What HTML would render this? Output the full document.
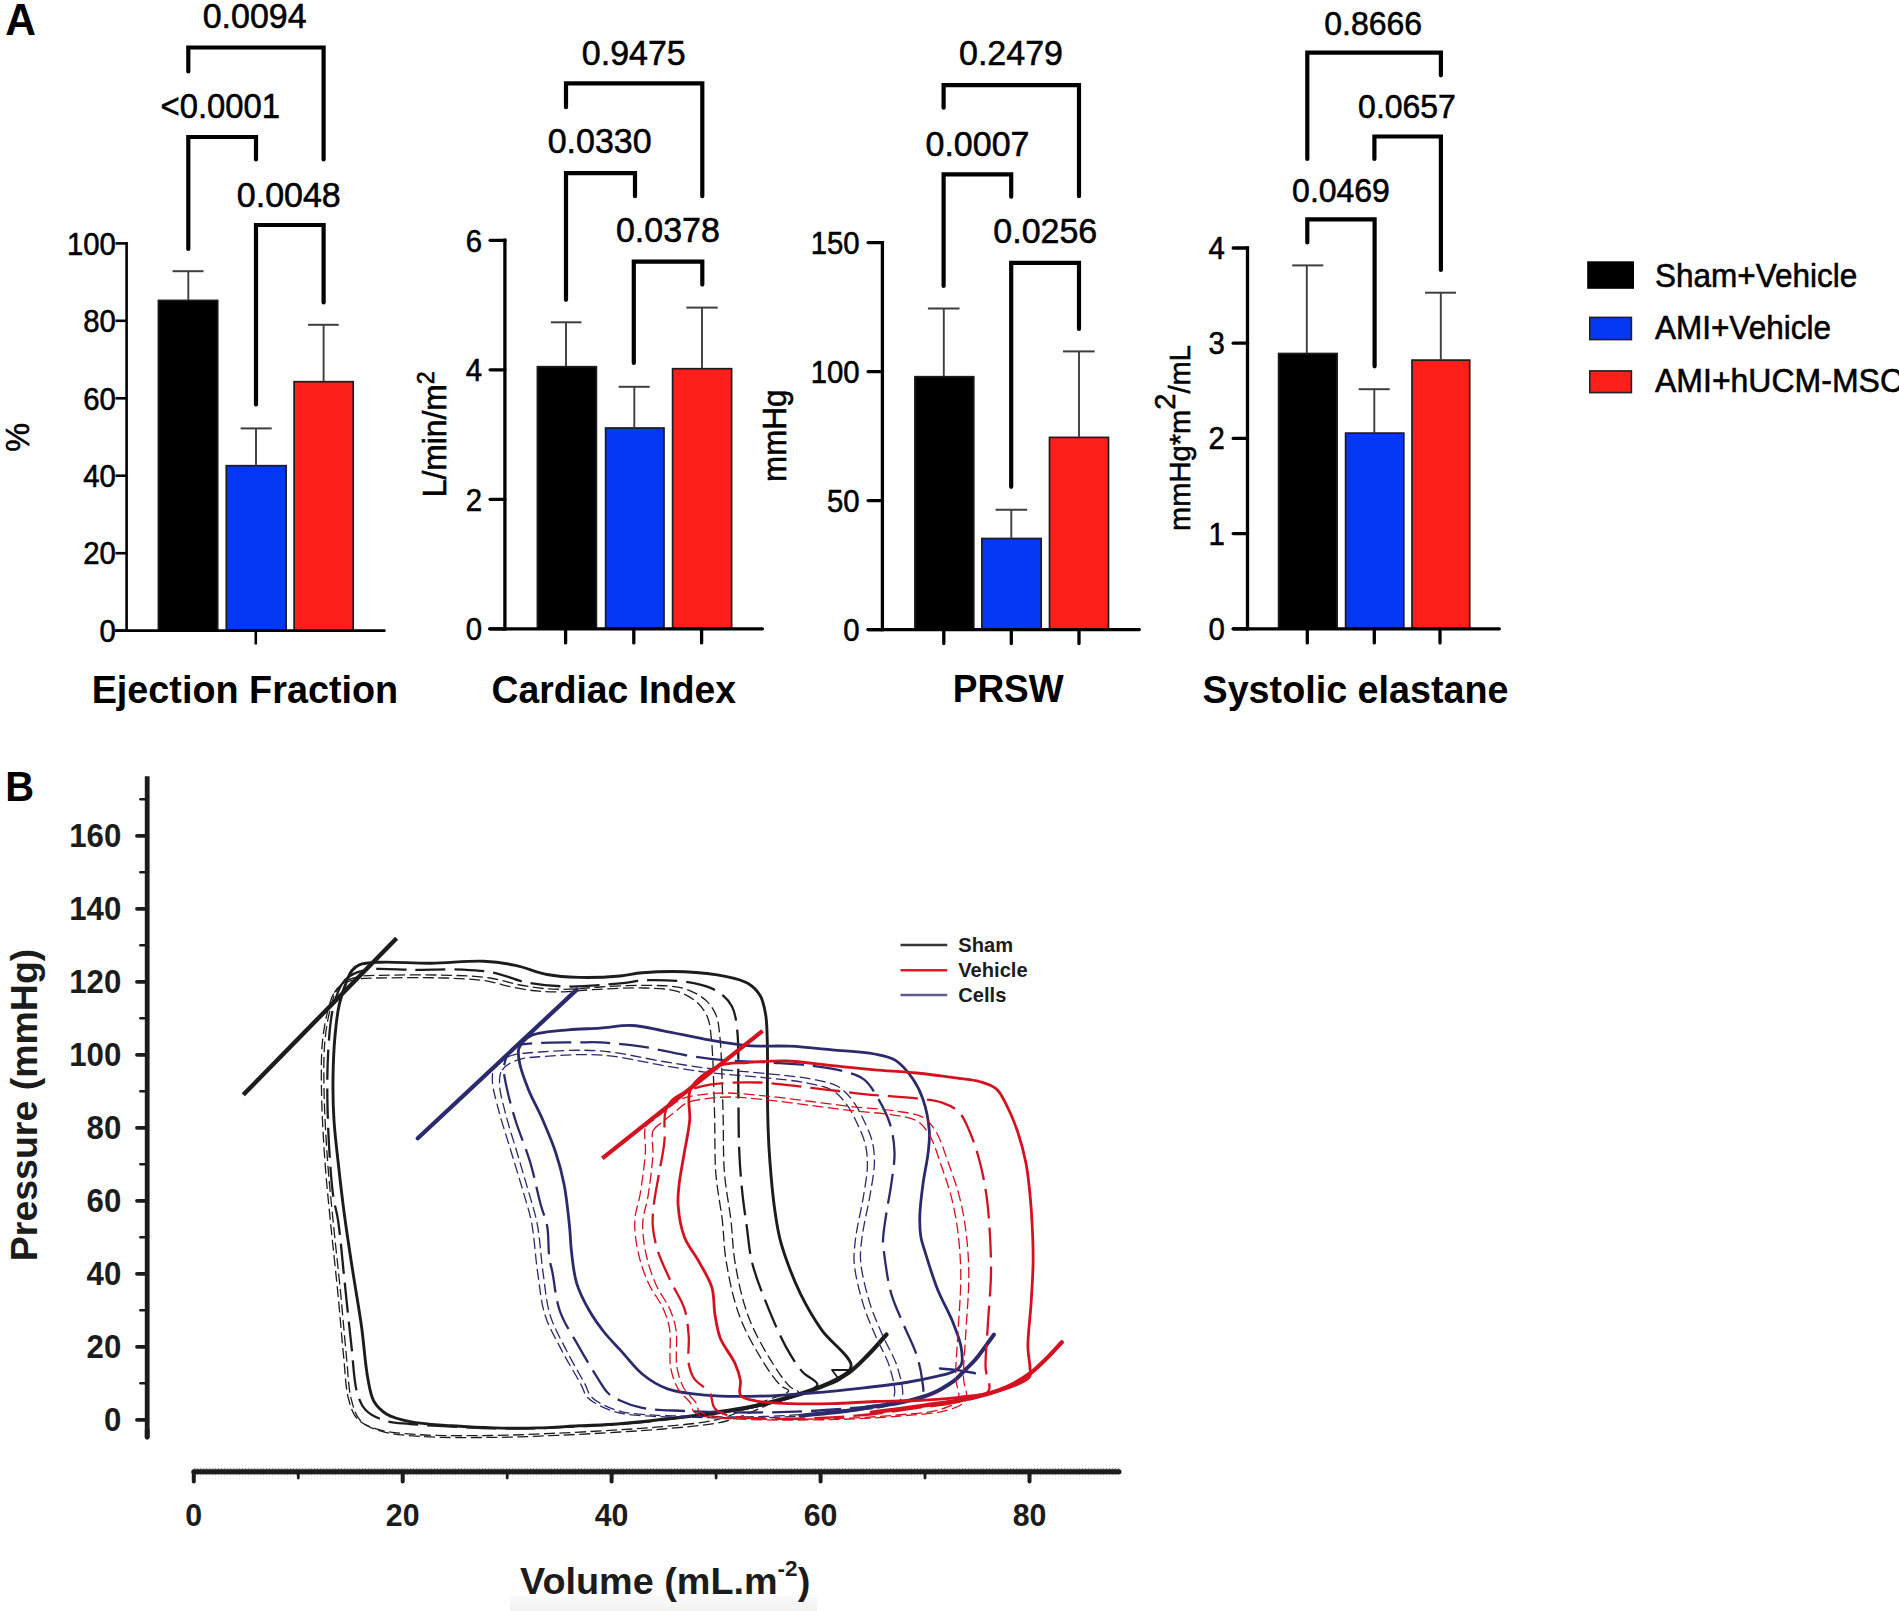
<!DOCTYPE html>
<html lang="en">
<head>
<meta charset="utf-8">
<title>Figure: haemodynamic parameters and pressure-volume loops</title>
<style>
html,body{margin:0;padding:0;background:#fff;}
body{width:1899px;height:1611px;overflow:hidden;}
svg{display:block;}
text{font-family:"Liberation Sans", Arial, Helvetica, sans-serif;}
</style>
</head>
<body>
<svg width="1899" height="1611" viewBox="0 0 1899 1611">
<rect width="1899" height="1611" fill="#ffffff"/>
<g font-family='"Liberation Sans", Arial, Helvetica, sans-serif'>
<text transform="translate(5.3 35.2) scale(1 1.02)" font-size="42.6" text-anchor="start" font-weight="bold" fill="#000" >A</text>
<rect x="158.4" y="300.4" width="59.3" height="330.2" fill="#000" stroke="#1c1c1c" stroke-width="1.7"/>
<rect x="226.3" y="465.7" width="59.8" height="164.9" fill="#0538f5" stroke="#1c1c1c" stroke-width="1.7"/>
<rect x="294.1" y="381.7" width="59.1" height="248.9" fill="#fe1f1b" stroke="#1c1c1c" stroke-width="1.7"/>
<line x1="188.3" y1="271.2" x2="188.3" y2="300.0" stroke="#3e3e3e" stroke-width="1.9" stroke-linecap="butt" />
<line x1="172.6" y1="271.2" x2="203.5" y2="271.2" stroke="#3e3e3e" stroke-width="2.0" stroke-linecap="butt" />
<line x1="256.0" y1="428.4" x2="256.0" y2="466.0" stroke="#3e3e3e" stroke-width="1.9" stroke-linecap="butt" />
<line x1="240.6" y1="428.4" x2="271.7" y2="428.4" stroke="#3e3e3e" stroke-width="2.0" stroke-linecap="butt" />
<line x1="323.6" y1="324.8" x2="323.6" y2="381.0" stroke="#3e3e3e" stroke-width="1.9" stroke-linecap="butt" />
<line x1="308.0" y1="324.8" x2="338.7" y2="324.8" stroke="#3e3e3e" stroke-width="2.0" stroke-linecap="butt" />
<line x1="126.6" y1="242.1" x2="126.6" y2="631.9" stroke="#000" stroke-width="2.6" stroke-linecap="butt" />
<line x1="115.0" y1="630.6" x2="385.5" y2="630.6" stroke="#000" stroke-width="2.6" stroke-linecap="butt" />
<line x1="115.5" y1="630.6" x2="126.6" y2="630.6" stroke="#000" stroke-width="2.6" stroke-linecap="butt" />
<text transform="translate(115.8 641.8) scale(1 1.04)" font-size="29.3" text-anchor="end" fill="#000" stroke="#000" stroke-width="0.55" >0</text>
<line x1="115.5" y1="553.2" x2="126.6" y2="553.2" stroke="#000" stroke-width="2.6" stroke-linecap="butt" />
<text transform="translate(115.8 564.4) scale(1 1.04)" font-size="29.3" text-anchor="end" fill="#000" stroke="#000" stroke-width="0.55" >20</text>
<line x1="115.5" y1="475.7" x2="126.6" y2="475.7" stroke="#000" stroke-width="2.6" stroke-linecap="butt" />
<text transform="translate(115.8 486.9) scale(1 1.04)" font-size="29.3" text-anchor="end" fill="#000" stroke="#000" stroke-width="0.55" >40</text>
<line x1="115.5" y1="398.3" x2="126.6" y2="398.3" stroke="#000" stroke-width="2.6" stroke-linecap="butt" />
<text transform="translate(115.8 409.5) scale(1 1.04)" font-size="29.3" text-anchor="end" fill="#000" stroke="#000" stroke-width="0.55" >60</text>
<line x1="115.5" y1="320.8" x2="126.6" y2="320.8" stroke="#000" stroke-width="2.6" stroke-linecap="butt" />
<text transform="translate(115.8 332.0) scale(1 1.04)" font-size="29.3" text-anchor="end" fill="#000" stroke="#000" stroke-width="0.55" >80</text>
<line x1="115.5" y1="243.4" x2="126.6" y2="243.4" stroke="#000" stroke-width="2.6" stroke-linecap="butt" />
<text transform="translate(115.8 254.6) scale(1 1.04)" font-size="29.3" text-anchor="end" fill="#000" stroke="#000" stroke-width="0.55" >100</text>
<line x1="255.8" y1="630.6" x2="255.8" y2="644.5" stroke="#000" stroke-width="2.6" stroke-linecap="butt" />
<path d="M188.3,71.5 V47.5 H323.6 V159.5" fill="none" stroke="#000" stroke-width="4.2" stroke-linejoin="miter" stroke-linecap="round"/>
<path d="M188.3,249.0 V137.0 H256.0 V159.5" fill="none" stroke="#000" stroke-width="4.2" stroke-linejoin="miter" stroke-linecap="round"/>
<path d="M256.0,404.5 V225.0 H323.6 V302.5" fill="none" stroke="#000" stroke-width="4.2" stroke-linejoin="miter" stroke-linecap="round"/>
<text transform="translate(254.7 28.3) scale(1 1.04)" font-size="34" text-anchor="middle" fill="#000" stroke="#000" stroke-width="0.55" >0.0094</text>
<text transform="translate(220.3 117.5) scale(1 1.04)" font-size="34" text-anchor="middle" fill="#000" stroke="#000" stroke-width="0.55" textLength="119.5" lengthAdjust="spacingAndGlyphs" >&lt;0.0001</text>
<text transform="translate(288.8 206.8) scale(1 1.04)" font-size="34" text-anchor="middle" fill="#000" stroke="#000" stroke-width="0.55" >0.0048</text>
<text transform="translate(29.3 437.2) rotate(-90) scale(1 1.04)" font-size="32.5" text-anchor="middle" fill="#000" stroke="#000" stroke-width="0.55" >%</text>
<text transform="translate(244.9 702.6)" font-size="38" text-anchor="middle" font-weight="bold" fill="#000" textLength="306.5" lengthAdjust="spacingAndGlyphs" >Ejection Fraction</text>
<rect x="537.4" y="366.7" width="59.0" height="262.1" fill="#000" stroke="#1c1c1c" stroke-width="1.7"/>
<rect x="605.6" y="428.0" width="58.4" height="200.8" fill="#0538f5" stroke="#1c1c1c" stroke-width="1.7"/>
<rect x="672.6" y="368.7" width="59.0" height="260.1" fill="#fe1f1b" stroke="#1c1c1c" stroke-width="1.7"/>
<line x1="566.0" y1="322.3" x2="566.0" y2="366.0" stroke="#3e3e3e" stroke-width="1.9" stroke-linecap="butt" />
<line x1="550.9" y1="322.3" x2="581.5" y2="322.3" stroke="#3e3e3e" stroke-width="2.0" stroke-linecap="butt" />
<line x1="634.3" y1="386.8" x2="634.3" y2="428.0" stroke="#3e3e3e" stroke-width="1.9" stroke-linecap="butt" />
<line x1="618.7" y1="386.8" x2="649.7" y2="386.8" stroke="#3e3e3e" stroke-width="2.0" stroke-linecap="butt" />
<line x1="702.0" y1="307.6" x2="702.0" y2="368.0" stroke="#3e3e3e" stroke-width="1.9" stroke-linecap="butt" />
<line x1="686.4" y1="307.6" x2="717.7" y2="307.6" stroke="#3e3e3e" stroke-width="2.0" stroke-linecap="butt" />
<line x1="504.9" y1="238.6" x2="504.9" y2="630.4" stroke="#000" stroke-width="3.3" stroke-linecap="butt" />
<line x1="489.6" y1="628.8" x2="762.4" y2="628.8" stroke="#000" stroke-width="3.3" stroke-linecap="round" />
<line x1="490.1" y1="628.8" x2="504.9" y2="628.8" stroke="#000" stroke-width="3.3" stroke-linecap="round" />
<text transform="translate(482.1 640.2) scale(1 1.04)" font-size="29.3" text-anchor="end" fill="#000" stroke="#000" stroke-width="0.55" >0</text>
<line x1="490.1" y1="499.3" x2="504.9" y2="499.3" stroke="#000" stroke-width="3.3" stroke-linecap="round" />
<text transform="translate(482.1 510.7) scale(1 1.04)" font-size="29.3" text-anchor="end" fill="#000" stroke="#000" stroke-width="0.55" >2</text>
<line x1="490.1" y1="369.8" x2="504.9" y2="369.8" stroke="#000" stroke-width="3.3" stroke-linecap="round" />
<text transform="translate(482.1 381.2) scale(1 1.04)" font-size="29.3" text-anchor="end" fill="#000" stroke="#000" stroke-width="0.55" >4</text>
<line x1="490.1" y1="240.3" x2="504.9" y2="240.3" stroke="#000" stroke-width="3.3" stroke-linecap="round" />
<text transform="translate(482.1 251.7) scale(1 1.04)" font-size="29.3" text-anchor="end" fill="#000" stroke="#000" stroke-width="0.55" >6</text>
<line x1="565.6" y1="628.8" x2="565.6" y2="642.9" stroke="#000" stroke-width="3.3" stroke-linecap="round" />
<line x1="633.8" y1="628.8" x2="633.8" y2="642.9" stroke="#000" stroke-width="3.3" stroke-linecap="round" />
<line x1="701.6" y1="628.8" x2="701.6" y2="642.9" stroke="#000" stroke-width="3.3" stroke-linecap="round" />
<path d="M566.0,107.2 V83.4 H702.3 V196.2" fill="none" stroke="#000" stroke-width="4.2" stroke-linejoin="miter" stroke-linecap="round"/>
<path d="M566.0,299.8 V173.2 H635.0 V196.2" fill="none" stroke="#000" stroke-width="4.2" stroke-linejoin="miter" stroke-linecap="round"/>
<path d="M633.8,363.0 V261.6 H702.3 V284.6" fill="none" stroke="#000" stroke-width="4.2" stroke-linejoin="miter" stroke-linecap="round"/>
<text transform="translate(633.8 65.2) scale(1 1.04)" font-size="34" text-anchor="middle" fill="#000" stroke="#000" stroke-width="0.55" >0.9475</text>
<text transform="translate(599.7 153.4) scale(1 1.04)" font-size="34" text-anchor="middle" fill="#000" stroke="#000" stroke-width="0.55" >0.0330</text>
<text transform="translate(667.9 242.2) scale(1 1.04)" font-size="34" text-anchor="middle" fill="#000" stroke="#000" stroke-width="0.55" >0.0378</text>
<text transform="translate(446.3 497.3) rotate(-90) scale(1 1.04)" font-size="31.8" stroke="#000" stroke-width="0.55">L/min/m<tspan font-size="23" dy="-11.5">2</tspan></text>
<text transform="translate(613.8 702.6)" font-size="38" text-anchor="middle" font-weight="bold" fill="#000" textLength="244.5" lengthAdjust="spacingAndGlyphs" >Cardiac Index</text>
<rect x="914.9" y="376.7" width="58.9" height="252.9" fill="#000" stroke="#1c1c1c" stroke-width="1.7"/>
<rect x="981.9" y="538.5" width="59.3" height="91.1" fill="#0538f5" stroke="#1c1c1c" stroke-width="1.7"/>
<rect x="1049.5" y="437.4" width="59.0" height="192.2" fill="#fe1f1b" stroke="#1c1c1c" stroke-width="1.7"/>
<line x1="943.8" y1="308.4" x2="943.8" y2="376.0" stroke="#3e3e3e" stroke-width="1.9" stroke-linecap="butt" />
<line x1="927.9" y1="308.4" x2="959.5" y2="308.4" stroke="#3e3e3e" stroke-width="2.0" stroke-linecap="butt" />
<line x1="1011.3" y1="509.8" x2="1011.3" y2="538.0" stroke="#3e3e3e" stroke-width="1.9" stroke-linecap="butt" />
<line x1="995.6" y1="509.8" x2="1027.2" y2="509.8" stroke="#3e3e3e" stroke-width="2.0" stroke-linecap="butt" />
<line x1="1079.0" y1="351.4" x2="1079.0" y2="437.0" stroke="#3e3e3e" stroke-width="1.9" stroke-linecap="butt" />
<line x1="1063.0" y1="351.4" x2="1094.7" y2="351.4" stroke="#3e3e3e" stroke-width="2.0" stroke-linecap="butt" />
<line x1="882.4" y1="241.0" x2="882.4" y2="631.2" stroke="#000" stroke-width="3.3" stroke-linecap="butt" />
<line x1="868.1" y1="629.6" x2="1139.3" y2="629.6" stroke="#000" stroke-width="3.3" stroke-linecap="round" />
<line x1="868.1" y1="629.6" x2="882.4" y2="629.6" stroke="#000" stroke-width="3.3" stroke-linecap="round" />
<text transform="translate(859.5 641.2) scale(1 1.04)" font-size="29.3" text-anchor="end" fill="#000" stroke="#000" stroke-width="0.55" >0</text>
<line x1="868.1" y1="500.6" x2="882.4" y2="500.6" stroke="#000" stroke-width="3.3" stroke-linecap="round" />
<text transform="translate(859.5 512.2) scale(1 1.04)" font-size="29.3" text-anchor="end" fill="#000" stroke="#000" stroke-width="0.55" >50</text>
<line x1="868.1" y1="371.6" x2="882.4" y2="371.6" stroke="#000" stroke-width="3.3" stroke-linecap="round" />
<text transform="translate(859.5 383.2) scale(1 1.04)" font-size="29.3" text-anchor="end" fill="#000" stroke="#000" stroke-width="0.55" >100</text>
<line x1="868.1" y1="242.6" x2="882.4" y2="242.6" stroke="#000" stroke-width="3.3" stroke-linecap="round" />
<text transform="translate(859.5 254.2) scale(1 1.04)" font-size="29.3" text-anchor="end" fill="#000" stroke="#000" stroke-width="0.55" >150</text>
<line x1="943.8" y1="629.6" x2="943.8" y2="643.6" stroke="#000" stroke-width="3.3" stroke-linecap="round" />
<line x1="1011.3" y1="629.6" x2="1011.3" y2="643.6" stroke="#000" stroke-width="3.3" stroke-linecap="round" />
<line x1="1079.0" y1="629.6" x2="1079.0" y2="643.6" stroke="#000" stroke-width="3.3" stroke-linecap="round" />
<path d="M943.6,107.7 V85.2 H1079.0 V196.2" fill="none" stroke="#000" stroke-width="4.2" stroke-linejoin="miter" stroke-linecap="round"/>
<path d="M943.6,285.9 V174.4 H1011.2 V196.7" fill="none" stroke="#000" stroke-width="4.2" stroke-linejoin="miter" stroke-linecap="round"/>
<path d="M1011.2,486.8 V262.9 H1079.0 V328.9" fill="none" stroke="#000" stroke-width="4.2" stroke-linejoin="miter" stroke-linecap="round"/>
<text transform="translate(1011.0 65.2) scale(1 1.04)" font-size="34" text-anchor="middle" fill="#000" stroke="#000" stroke-width="0.55" >0.2479</text>
<text transform="translate(977.5 155.5) scale(1 1.04)" font-size="34" text-anchor="middle" fill="#000" stroke="#000" stroke-width="0.55" >0.0007</text>
<text transform="translate(1045.3 243.4) scale(1 1.04)" font-size="34" text-anchor="middle" fill="#000" stroke="#000" stroke-width="0.55" >0.0256</text>
<text transform="translate(785.8 482.0) rotate(-90) scale(1 1.04)" font-size="31.4" stroke="#000" stroke-width="0.55">mmHg</text>
<text transform="translate(1008.2 702.1)" font-size="38" text-anchor="middle" font-weight="bold" fill="#000" textLength="111.0" lengthAdjust="spacingAndGlyphs" >PRSW</text>
<rect x="1278.6" y="353.5" width="58.5" height="275.3" fill="#000" stroke="#1c1c1c" stroke-width="1.7"/>
<rect x="1345.6" y="433.1" width="58.2" height="195.7" fill="#0538f5" stroke="#1c1c1c" stroke-width="1.7"/>
<rect x="1412.0" y="360.1" width="57.7" height="268.7" fill="#fe1f1b" stroke="#1c1c1c" stroke-width="1.7"/>
<line x1="1306.8" y1="265.4" x2="1306.8" y2="353.0" stroke="#3e3e3e" stroke-width="1.9" stroke-linecap="butt" />
<line x1="1292.2" y1="265.4" x2="1323.3" y2="265.4" stroke="#3e3e3e" stroke-width="2.0" stroke-linecap="butt" />
<line x1="1374.3" y1="389.2" x2="1374.3" y2="433.0" stroke="#3e3e3e" stroke-width="1.9" stroke-linecap="butt" />
<line x1="1358.7" y1="389.2" x2="1389.7" y2="389.2" stroke="#3e3e3e" stroke-width="2.0" stroke-linecap="butt" />
<line x1="1440.8" y1="292.7" x2="1440.8" y2="360.0" stroke="#3e3e3e" stroke-width="1.9" stroke-linecap="butt" />
<line x1="1425.0" y1="292.7" x2="1456.0" y2="292.7" stroke="#3e3e3e" stroke-width="2.0" stroke-linecap="butt" />
<line x1="1247.5" y1="246.3" x2="1247.5" y2="630.4" stroke="#000" stroke-width="3.3" stroke-linecap="butt" />
<line x1="1233.2" y1="628.8" x2="1499.3" y2="628.8" stroke="#000" stroke-width="3.3" stroke-linecap="round" />
<line x1="1233.2" y1="628.8" x2="1247.5" y2="628.8" stroke="#000" stroke-width="3.3" stroke-linecap="round" />
<text transform="translate(1224.8 639.8) scale(1 1.04)" font-size="29.3" text-anchor="end" fill="#000" stroke="#000" stroke-width="0.55" >0</text>
<line x1="1233.2" y1="533.6" x2="1247.5" y2="533.6" stroke="#000" stroke-width="3.3" stroke-linecap="round" />
<text transform="translate(1224.8 544.6) scale(1 1.04)" font-size="29.3" text-anchor="end" fill="#000" stroke="#000" stroke-width="0.55" >1</text>
<line x1="1233.2" y1="438.4" x2="1247.5" y2="438.4" stroke="#000" stroke-width="3.3" stroke-linecap="round" />
<text transform="translate(1224.8 449.4) scale(1 1.04)" font-size="29.3" text-anchor="end" fill="#000" stroke="#000" stroke-width="0.55" >2</text>
<line x1="1233.2" y1="343.2" x2="1247.5" y2="343.2" stroke="#000" stroke-width="3.3" stroke-linecap="round" />
<text transform="translate(1224.8 354.2) scale(1 1.04)" font-size="29.3" text-anchor="end" fill="#000" stroke="#000" stroke-width="0.55" >3</text>
<line x1="1233.2" y1="248.0" x2="1247.5" y2="248.0" stroke="#000" stroke-width="3.3" stroke-linecap="round" />
<text transform="translate(1224.8 259.0) scale(1 1.04)" font-size="29.3" text-anchor="end" fill="#000" stroke="#000" stroke-width="0.55" >4</text>
<line x1="1307.3" y1="628.8" x2="1307.3" y2="642.9" stroke="#000" stroke-width="3.3" stroke-linecap="round" />
<line x1="1374.3" y1="628.8" x2="1374.3" y2="642.9" stroke="#000" stroke-width="3.3" stroke-linecap="round" />
<line x1="1440.0" y1="628.8" x2="1440.0" y2="642.9" stroke="#000" stroke-width="3.3" stroke-linecap="round" />
<path d="M1307.3,159.0 V52.6 H1440.9 V75.3" fill="none" stroke="#000" stroke-width="4.2" stroke-linejoin="miter" stroke-linecap="round"/>
<path d="M1374.4,159.0 V136.5 H1440.9 V270.0" fill="none" stroke="#000" stroke-width="4.2" stroke-linejoin="miter" stroke-linecap="round"/>
<path d="M1307.3,242.4 V219.4 H1374.6 V366.3" fill="none" stroke="#000" stroke-width="4.2" stroke-linejoin="miter" stroke-linecap="round"/>
<text transform="translate(1373.2 34.6) scale(1 1.04)" font-size="32" text-anchor="middle" fill="#000" stroke="#000" stroke-width="0.55" >0.8666</text>
<text transform="translate(1407.0 117.7) scale(1 1.04)" font-size="32" text-anchor="middle" fill="#000" stroke="#000" stroke-width="0.55" >0.0657</text>
<text transform="translate(1341.0 201.7) scale(1 1.04)" font-size="32" text-anchor="middle" fill="#000" stroke="#000" stroke-width="0.55" >0.0469</text>
<text transform="translate(1190.4 531.0) rotate(-90) scale(1 1.04)" font-size="29.1" stroke="#000" stroke-width="0.55">mmHg*m<tspan dy="-15">2</tspan><tspan dy="15">/mL</tspan></text>
<text transform="translate(1355.5 702.6)" font-size="38" text-anchor="middle" font-weight="bold" fill="#000" textLength="306.0" lengthAdjust="spacingAndGlyphs" >Systolic elastane</text>
<rect x="1587.2" y="261.3" width="46.8" height="27.5" fill="#000"/>
<rect x="1589.8" y="317.4" width="41.6" height="22.2" fill="#0538f5" stroke="#222" stroke-width="1.6"/>
<rect x="1589.8" y="370.9" width="41.6" height="21.7" fill="#fe1f1b" stroke="#222" stroke-width="1.6"/>
<text transform="translate(1655.0 286.8) scale(1 1.04)" font-size="31.5" text-anchor="start" fill="#000" stroke="#000" stroke-width="0.55" >Sham+Vehicle</text>
<text transform="translate(1655.0 339.2) scale(1 1.04)" font-size="31.5" text-anchor="start" fill="#000" stroke="#000" stroke-width="0.55" >AMI+Vehicle</text>
<text transform="translate(1655.0 392.4) scale(1 1.04)" font-size="31.5" text-anchor="start" fill="#000" stroke="#000" stroke-width="0.55" textLength="248.0" lengthAdjust="spacingAndGlyphs" >AMI+hUCM-MSC</text>
</g>
<g font-family='"Liberation Sans", Arial, Helvetica, sans-serif' font-weight="bold" fill="#1c1c1c">
<text transform="translate(5.2 800.9) scale(1 1.07)" font-size="40.0" text-anchor="start" font-weight="bold" fill="#000" >B</text>
<defs><linearGradient id="gstrip" x1="0" y1="0" x2="0" y2="1"><stop offset="0" stop-color="#ffffff"/><stop offset="0.35" stop-color="#f8f8f8"/><stop offset="1" stop-color="#f2f2f2"/></linearGradient></defs>
<rect x="510" y="1593" width="307" height="18" fill="url(#gstrip)"/>
<line x1="147.2" y1="776.2" x2="147.2" y2="1437.3" stroke="#1c1c1c" stroke-width="4.8" stroke-linecap="butt" />
<line x1="147.2" y1="1430.0" x2="147.2" y2="1437.3" stroke="#1c1c1c" stroke-width="4.8" stroke-linecap="round" />
<line x1="137.0" y1="1419.8" x2="147.2" y2="1419.8" stroke="#1c1c1c" stroke-width="3.8" stroke-linecap="round" />
<text transform="translate(121.3 1431.1) scale(1 1.05)" font-size="31.2" text-anchor="end" font-weight="bold" fill="#1c1c1c" >0</text>
<line x1="137.0" y1="1346.8" x2="147.2" y2="1346.8" stroke="#1c1c1c" stroke-width="3.8" stroke-linecap="round" />
<text transform="translate(121.3 1358.1) scale(1 1.05)" font-size="31.2" text-anchor="end" font-weight="bold" fill="#1c1c1c" >20</text>
<line x1="137.0" y1="1273.8" x2="147.2" y2="1273.8" stroke="#1c1c1c" stroke-width="3.8" stroke-linecap="round" />
<text transform="translate(121.3 1285.1) scale(1 1.05)" font-size="31.2" text-anchor="end" font-weight="bold" fill="#1c1c1c" >40</text>
<line x1="137.0" y1="1200.8" x2="147.2" y2="1200.8" stroke="#1c1c1c" stroke-width="3.8" stroke-linecap="round" />
<text transform="translate(121.3 1212.1) scale(1 1.05)" font-size="31.2" text-anchor="end" font-weight="bold" fill="#1c1c1c" >60</text>
<line x1="137.0" y1="1127.8" x2="147.2" y2="1127.8" stroke="#1c1c1c" stroke-width="3.8" stroke-linecap="round" />
<text transform="translate(121.3 1139.1) scale(1 1.05)" font-size="31.2" text-anchor="end" font-weight="bold" fill="#1c1c1c" >80</text>
<line x1="137.0" y1="1054.8" x2="147.2" y2="1054.8" stroke="#1c1c1c" stroke-width="3.8" stroke-linecap="round" />
<text transform="translate(121.3 1066.1) scale(1 1.05)" font-size="31.2" text-anchor="end" font-weight="bold" fill="#1c1c1c" >100</text>
<line x1="137.0" y1="981.8" x2="147.2" y2="981.8" stroke="#1c1c1c" stroke-width="3.8" stroke-linecap="round" />
<text transform="translate(121.3 993.1) scale(1 1.05)" font-size="31.2" text-anchor="end" font-weight="bold" fill="#1c1c1c" >120</text>
<line x1="137.0" y1="908.8" x2="147.2" y2="908.8" stroke="#1c1c1c" stroke-width="3.8" stroke-linecap="round" />
<text transform="translate(121.3 920.1) scale(1 1.05)" font-size="31.2" text-anchor="end" font-weight="bold" fill="#1c1c1c" >140</text>
<line x1="137.0" y1="835.8" x2="147.2" y2="835.8" stroke="#1c1c1c" stroke-width="3.8" stroke-linecap="round" />
<text transform="translate(121.3 847.1) scale(1 1.05)" font-size="31.2" text-anchor="end" font-weight="bold" fill="#1c1c1c" >160</text>
<line x1="140.4" y1="1383.3" x2="147.2" y2="1383.3" stroke="#1c1c1c" stroke-width="2.6" stroke-linecap="round" />
<line x1="140.4" y1="1310.3" x2="147.2" y2="1310.3" stroke="#1c1c1c" stroke-width="2.6" stroke-linecap="round" />
<line x1="140.4" y1="1237.3" x2="147.2" y2="1237.3" stroke="#1c1c1c" stroke-width="2.6" stroke-linecap="round" />
<line x1="140.4" y1="1164.3" x2="147.2" y2="1164.3" stroke="#1c1c1c" stroke-width="2.6" stroke-linecap="round" />
<line x1="140.4" y1="1091.3" x2="147.2" y2="1091.3" stroke="#1c1c1c" stroke-width="2.6" stroke-linecap="round" />
<line x1="140.4" y1="1018.3" x2="147.2" y2="1018.3" stroke="#1c1c1c" stroke-width="2.6" stroke-linecap="round" />
<line x1="140.4" y1="945.3" x2="147.2" y2="945.3" stroke="#1c1c1c" stroke-width="2.6" stroke-linecap="round" />
<line x1="140.4" y1="872.3" x2="147.2" y2="872.3" stroke="#1c1c1c" stroke-width="2.6" stroke-linecap="round" />
<line x1="140.4" y1="799.3" x2="147.2" y2="799.3" stroke="#1c1c1c" stroke-width="2.6" stroke-linecap="round" />
<line x1="193.8" y1="1471.8" x2="1119.0" y2="1471.8" stroke="#1c1c1c" stroke-width="5.0" stroke-linecap="round" />
<line x1="193.8" y1="1468.9" x2="1119.5" y2="1468.9" stroke="#1c1c1c" stroke-width="1.2" stroke-linecap="butt" stroke-dasharray="1.5 1.5" opacity="0.6"/>
<line x1="193.8" y1="1474.7" x2="1119.5" y2="1474.7" stroke="#1c1c1c" stroke-width="1.0" stroke-linecap="butt" stroke-dasharray="1.5 1.5" opacity="0.45"/>
<line x1="193.8" y1="1471.8" x2="193.8" y2="1481.6" stroke="#1c1c1c" stroke-width="4.0" stroke-linecap="round" />
<text transform="translate(193.8 1526.4) scale(1 1.06)" font-size="30.3" text-anchor="middle" font-weight="bold" fill="#1c1c1c" >0</text>
<line x1="298.3" y1="1471.8" x2="298.3" y2="1478.0" stroke="#1c1c1c" stroke-width="2.8" stroke-linecap="round" />
<line x1="402.7" y1="1471.8" x2="402.7" y2="1481.6" stroke="#1c1c1c" stroke-width="4.0" stroke-linecap="round" />
<text transform="translate(402.7 1526.4) scale(1 1.06)" font-size="30.3" text-anchor="middle" font-weight="bold" fill="#1c1c1c" >20</text>
<line x1="507.2" y1="1471.8" x2="507.2" y2="1478.0" stroke="#1c1c1c" stroke-width="2.8" stroke-linecap="round" />
<line x1="611.6" y1="1471.8" x2="611.6" y2="1481.6" stroke="#1c1c1c" stroke-width="4.0" stroke-linecap="round" />
<text transform="translate(611.6 1526.4) scale(1 1.06)" font-size="30.3" text-anchor="middle" font-weight="bold" fill="#1c1c1c" >40</text>
<line x1="716.1" y1="1471.8" x2="716.1" y2="1478.0" stroke="#1c1c1c" stroke-width="2.8" stroke-linecap="round" />
<line x1="820.6" y1="1471.8" x2="820.6" y2="1481.6" stroke="#1c1c1c" stroke-width="4.0" stroke-linecap="round" />
<text transform="translate(820.6 1526.4) scale(1 1.06)" font-size="30.3" text-anchor="middle" font-weight="bold" fill="#1c1c1c" >60</text>
<line x1="925.0" y1="1471.8" x2="925.0" y2="1478.0" stroke="#1c1c1c" stroke-width="2.8" stroke-linecap="round" />
<line x1="1029.5" y1="1471.8" x2="1029.5" y2="1481.6" stroke="#1c1c1c" stroke-width="4.0" stroke-linecap="round" />
<text transform="translate(1029.5 1526.4) scale(1 1.06)" font-size="30.3" text-anchor="middle" font-weight="bold" fill="#1c1c1c" >80</text>
<text transform="translate(36.8 1261.2) rotate(-90)" font-size="37" textLength="312.5" lengthAdjust="spacingAndGlyphs">Pressure (mmHg)</text>
<text x="520.0" y="1593.7" font-size="37.8">Volume (mL.m<tspan font-size="22.5" dy="-18">-2</tspan><tspan dy="18">)</tspan></text>
<line x1="900.5" y1="944.9" x2="947.3" y2="944.9" stroke="#363636" stroke-width="2.5" stroke-linecap="butt" />
<text transform="translate(958.3 952.0)" font-size="20.1" text-anchor="start" font-weight="bold" fill="#1c1c1c" >Sham</text>
<line x1="900.5" y1="970.2" x2="947.3" y2="970.2" stroke="#dc1c2c" stroke-width="2.5" stroke-linecap="butt" />
<text transform="translate(958.3 977.3)" font-size="20.1" text-anchor="start" font-weight="bold" fill="#1c1c1c" >Vehicle</text>
<line x1="900.5" y1="994.9" x2="947.3" y2="994.9" stroke="#605b96" stroke-width="2.5" stroke-linecap="butt" />
<text transform="translate(958.3 1002.2)" font-size="20.1" text-anchor="start" font-weight="bold" fill="#1c1c1c" >Cells</text>
</g>
<path d="M334.3,992.6 C336.7,988.8 339.4,985.9 343.1,983.7 C347.4,981.1 353.4,979.9 358.9,978.9 C364.6,978.0 368.8,978.2 376.6,978.0 C392.1,977.7 425.8,977.4 445.6,978.0 C460.5,978.6 472.8,978.9 485.0,980.7 C495.6,982.3 505.1,985.9 514.5,987.6 C523.1,989.3 530.9,990.5 539.1,991.2 C547.3,991.9 555.2,992.0 563.8,991.8 C573.2,991.6 582.1,990.2 593.3,989.6 C608.2,988.9 630.2,987.5 645.3,988.0 C657.0,988.5 667.4,988.4 676.4,991.2 C684.4,993.7 691.9,997.7 697.2,1002.5 C701.9,1006.7 705.2,1011.7 707.6,1017.4 C710.1,1023.5 710.3,1029.1 711.3,1038.1 C713.2,1055.1 713.7,1087.9 714.5,1111.4 C715.2,1133.1 714.4,1154.8 715.9,1174.1 C717.3,1190.7 720.5,1205.3 722.3,1220.3 C723.9,1234.6 723.8,1247.5 726.3,1262.1 C729.1,1278.6 733.0,1298.2 738.9,1314.3 C744.4,1329.4 752.2,1343.7 759.7,1356.1 C766.2,1367.0 774.6,1379.9 780.5,1385.4 C783.5,1388.3 788.9,1388.7 788.7,1390.6 C788.5,1393.9 771.1,1398.2 760.8,1402.5 C748.1,1407.7 733.9,1415.2 718.0,1419.3 C699.5,1424.0 674.5,1425.4 655.7,1427.2 C640.1,1428.7 628.5,1429.2 613.0,1430.2 C594.4,1431.3 572.2,1432.6 551.6,1433.4 C531.0,1434.3 510.9,1435.3 489.3,1435.5 C466.0,1435.8 437.1,1436.1 416.5,1434.5 C401.3,1433.4 387.7,1432.6 377.0,1429.2 C369.0,1426.6 362.0,1424.0 357.2,1418.8 C352.4,1413.6 350.5,1406.3 348.3,1397.9 C345.4,1386.5 345.2,1371.5 343.6,1356.1 C341.7,1337.4 340.0,1315.2 337.9,1293.5 C335.6,1270.0 332.6,1243.4 330.3,1220.3 C328.3,1199.5 326.3,1181.5 324.9,1160.9 C323.3,1138.5 321.8,1111.9 321.5,1090.6 C321.2,1072.9 321.1,1056.5 322.4,1042.1 C323.6,1030.4 325.5,1019.4 327.9,1010.4 C329.7,1003.5 331.3,997.3 334.3,992.6 Z" fill="none" stroke="#1c1c1c" stroke-width="1.3" stroke-linecap="butt" stroke-linejoin="round" stroke-dasharray="11 4.5"/>
<path d="M337.0,990.0 C339.4,986.1 342.2,983.3 346.0,981.0 C350.3,978.4 356.4,977.2 362.0,976.2 C367.8,975.2 372.0,975.5 380.0,975.3 C395.7,974.9 429.9,974.6 450.0,975.3 C465.2,975.8 477.7,976.2 490.0,978.0 C500.8,979.6 510.4,983.2 520.0,985.0 C528.7,986.6 536.6,987.9 545.0,988.6 C553.3,989.3 561.3,989.4 570.0,989.2 C579.5,989.0 588.6,987.6 600.0,987.0 C615.1,986.2 637.5,984.9 652.8,985.4 C664.7,985.8 675.2,985.8 684.4,988.6 C692.4,991.1 700.1,995.2 705.5,1000.0 C710.2,1004.2 713.6,1009.3 716.0,1015.0 C718.6,1021.2 718.8,1026.8 719.8,1036.0 C721.7,1053.1 722.2,1086.3 723.0,1110.0 C723.7,1131.9 722.9,1153.8 724.5,1173.3 C725.8,1190.1 729.1,1204.8 730.9,1220.0 C732.6,1234.4 732.5,1247.4 735.0,1262.2 C737.8,1278.9 741.8,1298.7 747.8,1315.0 C753.4,1330.2 761.3,1344.6 768.9,1357.2 C775.5,1368.2 784.1,1381.2 790.0,1386.8 C793.1,1389.7 798.5,1390.1 798.4,1392.0 C798.1,1395.4 780.5,1399.7 770.0,1404.0 C757.1,1409.3 742.7,1416.9 726.6,1421.0 C707.8,1425.8 682.4,1427.1 663.3,1429.0 C647.5,1430.5 635.7,1431.0 620.0,1432.0 C601.1,1433.2 578.6,1434.4 557.7,1435.3 C536.7,1436.2 516.3,1437.2 494.4,1437.4 C470.7,1437.6 441.4,1437.9 420.5,1436.4 C405.1,1435.3 391.2,1434.4 380.4,1431.0 C372.3,1428.4 365.1,1425.7 360.3,1420.5 C355.4,1415.2 353.5,1407.8 351.3,1399.4 C348.3,1387.9 348.1,1372.7 346.5,1357.2 C344.6,1338.2 342.8,1315.8 340.7,1293.9 C338.4,1270.2 335.3,1243.4 333.0,1220.0 C330.9,1199.0 329.0,1180.9 327.5,1160.0 C325.9,1137.3 324.3,1110.5 324.0,1089.0 C323.7,1071.2 323.6,1054.6 325.0,1040.0 C326.1,1028.2 328.1,1017.1 330.5,1008.0 C332.3,1001.0 334.0,994.7 337.0,990.0 Z" fill="none" stroke="#1c1c1c" stroke-width="1.3" stroke-linecap="butt" stroke-linejoin="round" stroke-dasharray="11 4.5"/>
<path d="M342.0,984.0 C344.4,980.3 346.5,978.2 350.0,976.0 C354.5,973.1 360.3,970.9 367.8,969.6 C379.6,967.6 399.2,969.8 415.0,969.8 C430.9,969.8 448.4,968.9 462.7,969.6 C474.4,970.2 483.9,970.7 494.4,972.8 C505.0,974.9 514.6,980.0 526.0,982.3 C539.0,984.9 553.5,986.2 568.3,986.5 C584.7,986.8 605.3,984.6 620.0,983.3 C630.9,982.4 637.8,980.4 648.5,980.2 C662.1,979.9 682.3,980.6 695.0,983.3 C704.2,985.3 711.9,987.6 718.2,991.8 C723.9,995.6 728.8,1000.5 732.0,1006.5 C735.4,1013.0 736.0,1020.2 737.2,1029.8 C739.0,1044.9 738.0,1068.9 738.3,1088.9 C738.7,1109.6 738.4,1133.2 739.3,1152.2 C740.0,1167.7 741.1,1181.4 742.5,1194.4 C743.7,1205.7 745.2,1215.1 746.7,1226.0 C748.3,1237.7 749.0,1249.8 752.0,1262.2 C755.4,1275.9 761.2,1290.5 766.8,1304.4 C772.5,1318.6 779.2,1334.5 785.8,1346.6 C791.2,1356.4 796.7,1365.3 802.6,1372.0 C807.3,1377.3 817.9,1380.7 817.4,1384.6 C816.8,1389.4 800.3,1393.9 790.0,1397.6 C777.6,1402.0 762.6,1405.2 747.8,1408.2 C731.7,1411.4 715.7,1413.4 697.0,1415.8 C674.0,1418.8 641.7,1422.5 620.0,1424.2 C604.2,1425.5 592.6,1425.6 578.8,1426.3 C564.8,1427.0 550.7,1428.0 536.6,1428.3 C522.5,1428.6 508.5,1428.6 494.4,1428.3 C480.3,1428.0 466.3,1427.3 452.2,1426.6 C438.1,1425.9 422.3,1425.2 410.0,1424.0 C400.4,1423.0 392.2,1423.0 384.6,1420.5 C377.6,1418.2 370.2,1414.8 365.6,1410.0 C361.3,1405.5 359.4,1400.3 357.2,1393.0 C353.8,1381.5 353.4,1363.3 351.5,1346.6 C349.3,1327.1 347.0,1304.4 344.8,1283.3 C342.5,1262.2 340.5,1236.4 338.0,1220.0 C336.4,1209.5 334.4,1205.5 333.0,1194.4 C330.4,1174.5 328.2,1136.1 327.6,1110.0 C327.0,1087.4 327.2,1065.4 328.5,1046.6 C329.5,1031.5 330.7,1017.3 333.5,1006.0 C335.7,997.4 338.6,989.3 342.0,984.0 Z" fill="none" stroke="#1c1c1c" stroke-width="2.3" stroke-linecap="butt" stroke-linejoin="round" stroke-dasharray="30 9"/>
<path d="M346.6,981.2 C348.4,976.9 349.7,973.3 352.0,970.5 C354.0,968.0 356.0,966.2 359.3,964.8 C364.3,962.7 371.8,962.6 380.4,962.2 C393.6,961.5 413.9,963.5 431.0,963.3 C448.4,963.1 468.6,960.5 483.9,961.2 C495.8,961.8 505.0,963.2 515.5,965.4 C526.1,967.6 536.5,972.5 547.2,974.5 C557.6,976.5 567.6,977.1 578.8,977.4 C591.6,977.8 608.4,977.0 620.0,976.0 C628.6,975.2 633.6,973.5 642.2,972.8 C654.0,971.8 670.4,971.1 684.4,971.7 C698.5,972.3 715.0,974.1 726.6,976.6 C735.0,978.4 742.0,979.8 747.8,983.3 C753.0,986.5 757.4,990.9 760.4,996.0 C763.5,1001.4 764.5,1007.8 765.7,1015.0 C767.2,1024.1 767.1,1035.3 767.4,1046.6 C767.8,1059.7 767.3,1074.8 767.4,1088.9 C767.5,1103.0 767.7,1118.0 768.2,1131.0 C768.6,1142.3 769.1,1151.4 770.0,1162.7 C771.0,1175.8 772.4,1192.0 774.1,1205.0 C775.6,1216.3 777.2,1227.2 779.4,1236.6 C781.2,1244.5 783.0,1250.0 785.8,1258.0 C789.5,1268.5 794.7,1282.1 800.5,1293.9 C806.5,1306.1 813.4,1318.2 821.6,1329.8 C830.2,1342.1 851.2,1356.5 851.2,1365.6 C851.2,1371.2 844.7,1375.5 840.0,1379.0 C835.0,1382.7 828.6,1384.2 821.6,1386.8 C812.5,1390.2 801.4,1394.0 790.0,1397.3 C777.0,1401.1 762.6,1405.0 747.8,1407.9 C731.7,1411.1 715.7,1412.9 697.0,1415.3 C674.0,1418.2 641.7,1422.0 620.0,1423.7 C604.2,1425.0 592.6,1425.1 578.8,1425.8 C564.8,1426.5 550.7,1427.6 536.6,1427.9 C522.5,1428.2 508.5,1428.2 494.4,1427.9 C480.3,1427.6 466.3,1426.8 452.2,1425.8 C438.1,1424.7 421.9,1424.1 410.0,1421.6 C401.0,1419.7 393.0,1418.0 386.8,1414.2 C381.4,1410.9 377.1,1406.9 374.0,1401.5 C370.4,1395.3 369.6,1387.7 367.8,1378.3 C365.1,1364.3 363.9,1343.1 361.4,1325.5 C358.9,1307.9 355.8,1290.7 353.0,1272.8 C350.1,1254.1 347.0,1234.2 344.5,1215.5 C342.1,1197.6 340.0,1179.3 338.2,1162.7 C336.6,1147.9 334.9,1134.6 334.0,1120.5 C333.1,1106.4 332.8,1092.4 333.0,1078.3 C333.2,1064.2 333.8,1049.0 335.0,1036.0 C336.0,1024.7 337.1,1014.0 339.3,1004.4 C341.2,996.0 344.1,987.4 346.6,981.2 Z" fill="none" stroke="#1c1c1c" stroke-width="2.9" stroke-linecap="butt" stroke-linejoin="round"/>
<line x1="243.3" y1="1094.8" x2="396.6" y2="938.3" stroke="#1c1c1c" stroke-width="4.4" stroke-linecap="butt" />
<path d="M886.5,1334.5 C880.3,1341.3 874.4,1348.6 868.0,1355.0 C861.8,1361.2 856.3,1367.4 849.0,1372.5 C841.0,1378.1 831.2,1382.5 821.6,1386.5 C811.6,1390.7 801.4,1393.7 790.0,1397.0 C777.0,1400.8 762.6,1404.5 747.8,1407.5 C731.7,1410.7 713.9,1412.6 697.0,1415.2" fill="none" stroke="#1c1c1c" stroke-width="4.2" stroke-linecap="round" stroke-linejoin="round"/>
<path d="M832,1370 H850 L838,1378 Z" fill="none" stroke="#1c1c1c" stroke-width="1.8" stroke-linejoin="round"/>
<path d="M502.1,1070.1 C504.9,1065.9 510.5,1062.6 516.5,1060.3 C524.2,1057.3 534.1,1057.2 545.4,1056.3 C561.3,1055.1 583.7,1053.8 603.2,1055.2 C623.3,1056.8 645.9,1062.7 664.1,1065.7 C679.0,1068.1 689.8,1070.2 704.8,1072.1 C723.0,1074.4 747.6,1075.8 765.8,1077.8 C780.7,1079.4 794.4,1080.4 806.4,1082.9 C816.2,1085.0 825.8,1086.4 832.9,1090.6 C838.9,1094.2 843.1,1099.6 847.1,1105.1 C851.3,1110.7 854.3,1117.3 857.3,1123.8 C860.4,1130.4 863.7,1137.5 865.4,1144.6 C867.0,1151.4 867.6,1157.7 867.4,1165.4 C867.3,1174.7 865.1,1186.2 863.4,1196.6 C861.7,1207.0 858.8,1219.4 857.3,1227.7 C856.4,1233.2 855.7,1236.4 855.2,1241.5 C854.6,1247.9 853.5,1255.0 854.2,1263.4 C855.2,1275.1 859.5,1292.2 863.4,1304.9 C866.8,1316.2 871.3,1325.7 875.6,1336.1 C880.0,1346.5 886.7,1356.9 889.8,1367.4 C892.6,1377.2 896.6,1391.1 893.8,1397.1 C892.0,1401.0 888.3,1402.2 883.4,1404.0 C874.7,1407.4 857.8,1408.2 843.9,1409.9 C828.7,1411.9 811.8,1413.7 795.8,1414.9 C779.7,1416.0 764.1,1416.6 747.6,1416.8 C730.4,1417.1 711.2,1416.6 694.7,1416.2 C680.2,1416.0 666.7,1416.0 654.0,1415.2 C642.8,1414.4 631.6,1414.0 622.4,1411.9 C615.1,1410.2 608.7,1407.7 603.2,1404.8 C598.5,1402.4 594.0,1400.0 591.0,1396.4 C588.0,1393.0 587.5,1389.1 584.9,1383.9 C580.5,1375.5 572.3,1362.1 566.6,1350.7 C560.8,1339.2 554.1,1327.9 550.2,1315.4 C546.2,1302.3 545.3,1288.3 543.2,1273.8 C540.9,1257.9 539.9,1237.8 537.2,1223.8 C535.2,1213.3 532.8,1206.6 530.0,1196.6 C526.5,1184.2 521.8,1168.9 517.8,1155.0 C513.7,1141.2 508.7,1126.2 505.5,1113.5 C502.9,1102.8 499.5,1091.9 499.5,1083.9 C499.4,1078.4 499.6,1073.9 502.1,1070.1 Z" fill="none" stroke="#2b2a6c" stroke-width="1.3" stroke-linecap="butt" stroke-linejoin="round" stroke-dasharray="11 4.5"/>
<path d="M495.0,1066.0 C497.9,1061.7 503.8,1058.3 510.0,1056.0 C518.0,1053.0 528.3,1052.9 540.0,1052.0 C556.5,1050.7 579.8,1049.4 600.0,1050.9 C620.9,1052.4 644.3,1058.4 663.3,1061.5 C678.8,1064.0 690.0,1066.1 705.5,1068.0 C724.5,1070.3 749.9,1071.8 768.9,1073.8 C784.4,1075.5 798.5,1076.5 811.0,1079.0 C821.2,1081.1 831.2,1082.5 838.5,1086.8 C844.8,1090.5 849.1,1096.0 853.3,1101.5 C857.6,1107.2 860.8,1113.9 863.9,1120.5 C867.1,1127.2 870.6,1134.4 872.3,1141.6 C874.0,1148.5 874.5,1155.0 874.4,1162.7 C874.2,1172.2 871.9,1183.9 870.2,1194.4 C868.4,1205.0 865.4,1217.6 863.9,1226.0 C862.9,1231.6 862.2,1234.8 861.7,1240.0 C861.0,1246.5 859.9,1253.7 860.7,1262.2 C861.8,1274.1 866.2,1291.5 870.2,1304.4 C873.8,1315.8 878.4,1325.5 882.9,1336.0 C887.5,1346.6 894.5,1357.1 897.6,1367.8 C900.5,1377.8 904.6,1391.9 901.8,1398.0 C900.0,1402.0 896.0,1403.1 891.0,1405.0 C882.0,1408.4 864.4,1409.2 850.0,1411.0 C834.2,1412.9 816.7,1414.8 800.0,1416.0 C783.4,1417.2 767.1,1417.8 750.0,1418.0 C732.1,1418.3 712.1,1417.7 695.0,1417.4 C680.0,1417.1 666.0,1417.1 652.8,1416.3 C641.2,1415.6 629.5,1415.1 620.0,1413.0 C612.4,1411.3 605.8,1408.7 600.0,1405.8 C595.1,1403.3 590.5,1400.9 587.3,1397.3 C584.2,1393.8 583.8,1389.8 581.0,1384.6 C576.5,1376.0 568.0,1362.4 562.0,1350.9 C556.0,1339.2 549.0,1327.7 545.0,1315.0 C540.8,1301.8 539.9,1287.5 537.7,1272.8 C535.3,1256.7 534.3,1236.3 531.5,1222.0 C529.4,1211.3 526.9,1204.6 524.0,1194.4 C520.4,1181.8 515.5,1166.3 511.3,1152.2 C507.1,1138.1 501.9,1122.9 498.6,1110.0 C495.8,1099.2 492.4,1088.1 492.3,1080.0 C492.3,1074.5 492.4,1069.9 495.0,1066.0 Z" fill="none" stroke="#2b2a6c" stroke-width="1.3" stroke-linecap="butt" stroke-linejoin="round" stroke-dasharray="11 4.5"/>
<path d="M507.0,1056.0 C508.9,1052.3 511.4,1048.8 515.5,1046.6 C521.2,1043.5 530.8,1043.7 540.0,1043.0 C551.7,1042.1 569.0,1042.5 580.0,1042.4 C587.8,1042.3 592.1,1042.0 600.0,1042.4 C611.5,1043.0 628.2,1044.5 642.2,1046.6 C656.3,1048.7 670.3,1052.7 684.4,1055.0 C698.4,1057.3 712.5,1059.1 726.6,1060.4 C740.7,1061.6 754.8,1061.6 768.9,1062.5 C783.0,1063.4 798.0,1064.0 811.0,1065.6 C822.4,1067.0 833.3,1068.4 842.7,1071.0 C850.6,1073.2 858.0,1074.8 863.9,1079.4 C870.1,1084.2 874.3,1092.1 878.6,1099.4 C883.1,1107.1 887.6,1115.9 890.2,1124.7 C892.9,1133.5 894.2,1142.7 894.5,1152.2 C894.8,1162.4 892.7,1173.4 891.3,1183.9 C889.9,1194.5 887.4,1205.6 886.0,1215.5 C884.7,1224.2 883.2,1233.3 883.0,1240.0 C882.9,1244.6 883.3,1246.6 883.9,1251.7 C885.1,1261.4 887.6,1281.0 891.3,1293.9 C894.6,1305.4 899.7,1315.2 904.0,1325.5 C908.2,1335.5 913.6,1345.6 916.6,1355.0 C919.2,1363.1 921.1,1371.0 921.9,1378.3 C922.6,1384.6 924.9,1392.1 921.9,1396.0 C918.5,1400.4 907.6,1399.9 900.0,1401.5 C891.8,1403.2 884.9,1404.5 874.4,1405.8 C858.0,1407.8 831.9,1409.9 811.0,1411.0 C790.5,1412.1 770.7,1412.5 750.0,1412.5 C728.5,1412.5 703.9,1411.9 684.4,1411.0 C668.8,1410.2 653.9,1410.2 642.2,1407.9 C633.5,1406.2 626.1,1403.4 620.0,1400.5 C615.2,1398.3 611.5,1396.4 608.0,1393.0 C604.0,1389.2 601.6,1384.2 597.8,1378.3 C592.3,1369.8 585.0,1357.6 578.8,1346.6 C572.3,1335.1 564.2,1323.3 559.8,1310.8 C555.5,1298.6 554.5,1282.6 552.5,1272.8 C551.3,1266.6 550.1,1263.7 549.3,1257.7 C548.1,1249.2 548.9,1235.7 547.2,1226.3 C545.8,1218.4 543.1,1213.3 540.8,1205.0 C537.6,1193.3 534.5,1176.7 530.3,1162.7 C526.1,1148.5 519.6,1133.6 515.5,1120.5 C512.0,1109.3 509.0,1098.3 507.0,1088.9 C505.4,1081.5 503.7,1074.9 503.9,1069.0 C504.1,1064.2 505.0,1059.8 507.0,1056.0 Z" fill="none" stroke="#2b2a6c" stroke-width="2.3" stroke-linecap="butt" stroke-linejoin="round" stroke-dasharray="30 9"/>
<path d="M523.0,1042.0 C525.4,1039.4 527.9,1036.8 532.4,1035.0 C540.3,1031.8 556.7,1030.9 568.3,1029.8 C579.2,1028.7 589.4,1028.9 600.0,1028.2 C610.6,1027.5 621.2,1025.1 631.7,1025.5 C642.3,1025.9 652.0,1028.7 663.3,1030.8 C676.4,1033.2 691.4,1036.8 705.5,1039.3 C719.6,1041.8 733.7,1044.5 747.8,1045.6 C761.8,1046.7 775.9,1045.5 790.0,1046.2 C804.1,1046.9 818.1,1048.5 832.2,1049.8 C846.3,1051.1 862.8,1051.7 874.4,1054.0 C882.7,1055.7 889.3,1056.6 895.5,1060.4 C902.1,1064.5 907.8,1071.7 912.4,1078.3 C916.9,1084.7 920.3,1091.5 923.0,1099.4 C926.2,1108.7 928.6,1121.5 929.3,1131.0 C929.9,1138.7 929.0,1144.5 928.2,1152.2 C927.2,1161.7 924.4,1173.3 923.0,1183.9 C921.6,1194.4 920.1,1206.0 919.8,1215.5 C919.6,1223.2 919.8,1230.2 920.8,1236.6 C921.7,1242.1 923.1,1245.6 925.0,1251.7 C928.0,1261.5 932.9,1277.7 937.7,1289.7 C942.2,1300.9 948.5,1311.2 952.5,1321.3 C956.0,1330.1 959.6,1338.9 961.0,1346.6 C962.1,1352.9 963.2,1359.7 961.5,1364.0 C960.2,1367.2 957.7,1369.1 954.6,1371.0 C950.4,1373.5 944.3,1374.5 937.7,1376.2 C928.8,1378.4 917.3,1380.7 906.0,1382.5 C893.0,1384.6 878.7,1386.1 863.9,1387.8 C847.3,1389.7 828.6,1391.6 811.0,1393.0 C793.4,1394.4 775.9,1395.8 758.3,1396.2 C740.7,1396.6 721.6,1396.7 705.5,1395.2 C691.7,1393.9 678.6,1392.9 667.5,1388.9 C657.8,1385.4 649.8,1380.2 642.2,1374.0 C634.3,1367.6 627.8,1358.2 621.1,1350.9 C615.1,1344.3 609.3,1338.7 604.0,1332.0 C598.7,1325.3 593.8,1318.5 589.4,1310.8 C584.6,1302.4 579.7,1293.0 576.7,1283.3 C573.6,1273.3 572.7,1261.7 571.5,1251.7 C570.4,1242.7 570.5,1235.6 569.5,1226.0 C568.2,1213.7 566.6,1196.9 564.0,1183.9 C561.8,1172.5 559.1,1162.7 555.6,1152.2 C552.1,1141.5 547.5,1131.0 543.0,1120.5 C538.4,1109.9 532.2,1099.0 528.2,1088.9 C524.7,1080.1 521.2,1070.9 519.7,1063.5 C518.6,1058.1 517.8,1052.8 518.7,1049.0 C519.4,1046.1 521.0,1044.2 523.0,1042.0 Z" fill="none" stroke="#2b2a6c" stroke-width="2.8" stroke-linecap="butt" stroke-linejoin="round"/>
<line x1="417.8" y1="1138.2" x2="576.8" y2="989.6" stroke="#2b2a6c" stroke-width="4.2" stroke-linecap="round" />
<path d="M994.0,1334.5 C987.9,1342.8 980.9,1353.2 975.7,1359.3 C972.3,1363.3 969.9,1365.2 966.6,1368.5 C962.9,1372.2 958.9,1377.0 954.6,1380.4 C950.4,1383.7 945.7,1386.4 941.3,1388.9 C937.3,1391.2 933.6,1393.0 929.3,1394.7 C924.6,1396.6 919.3,1398.0 913.9,1399.4 C908.1,1401.0 902.1,1402.4 895.5,1403.6 C888.1,1404.9 879.1,1405.7 871.7,1406.8 C865.2,1407.8 861.0,1408.9 853.3,1410.0 C840.3,1411.8 818.1,1413.9 800.5,1415.8" fill="none" stroke="#2b2a6c" stroke-width="4.0" stroke-linecap="round" stroke-linejoin="round"/>
<path d="M940.0,1368.5 C945.3,1369.0 950.5,1369.3 956.0,1370.0 C962.1,1370.8 968.7,1372.1 975.0,1373.2" fill="none" stroke="#2b2a6c" stroke-width="2.4" stroke-linecap="round" stroke-linejoin="round"/>
<path d="M653.1,1130.5 C654.7,1126.8 658.1,1125.8 661.1,1123.1 C664.9,1119.8 670.0,1115.7 674.4,1112.3 C678.6,1109.0 682.0,1105.1 686.8,1102.9 C692.0,1100.5 698.3,1099.8 704.9,1098.8 C712.6,1097.6 720.8,1097.0 730.2,1097.0 C742.1,1097.1 757.1,1098.9 770.5,1100.3 C783.9,1101.7 797.2,1103.7 810.6,1105.4 C824.0,1107.1 837.4,1109.0 850.8,1110.6 C864.2,1112.2 879.1,1112.7 891.0,1114.7 C900.7,1116.4 910.6,1117.1 917.2,1121.0 C922.6,1124.3 925.6,1128.6 929.2,1134.4 C934.0,1142.4 937.6,1155.2 941.3,1165.7 C944.9,1176.0 948.6,1186.4 951.3,1196.9 C953.9,1207.2 955.8,1216.6 957.4,1228.0 C959.2,1241.8 960.6,1257.6 960.8,1274.1 C961.0,1293.3 958.7,1317.7 957.7,1336.4 C957.0,1351.6 955.4,1366.4 955.7,1378.0 C956.0,1386.3 960.8,1394.2 958.1,1399.4 C955.6,1404.4 948.6,1406.8 941.3,1409.2 C930.0,1413.1 910.8,1413.7 895.3,1415.2 C879.6,1416.7 863.6,1417.5 847.7,1418.1 C831.8,1418.8 816.0,1419.0 800.1,1419.1 C784.2,1419.2 767.5,1419.2 752.5,1418.6 C739.1,1418.1 724.2,1418.0 714.4,1416.1 C708.1,1414.9 702.1,1414.1 699.2,1411.2 C697.0,1409.1 697.9,1405.9 696.1,1402.9 C693.6,1398.6 687.2,1394.1 684.0,1388.5 C680.7,1382.4 678.4,1375.7 677.0,1367.7 C675.1,1357.1 677.7,1340.8 676.1,1330.3 C674.8,1322.2 672.9,1316.5 670.0,1309.5 C666.5,1301.3 659.8,1293.5 655.9,1284.5 C651.7,1274.8 648.0,1263.8 645.9,1253.3 C643.7,1243.0 642.3,1231.9 642.8,1222.1 C643.3,1213.2 646.3,1206.4 647.9,1196.9 C649.8,1184.8 652.1,1167.4 652.9,1155.3 C653.5,1146.0 650.7,1136.0 653.1,1130.5 Z" fill="none" stroke="#d6111f" stroke-width="1.3" stroke-linecap="butt" stroke-linejoin="round" stroke-dasharray="11 4.5"/>
<path d="M645.6,1127.0 C647.3,1123.3 650.8,1122.2 654.0,1119.5 C658.0,1116.1 663.4,1112.0 668.0,1108.5 C672.4,1105.2 676.0,1101.3 681.0,1099.0 C686.5,1096.5 693.1,1095.8 700.0,1094.8 C708.1,1093.6 716.7,1092.9 726.6,1093.0 C739.1,1093.1 754.8,1094.9 768.9,1096.3 C783.0,1097.7 797.0,1099.8 811.0,1101.5 C825.1,1103.3 839.2,1105.2 853.3,1106.8 C867.4,1108.4 883.0,1108.9 895.5,1111.0 C905.7,1112.7 916.0,1113.4 923.0,1117.4 C928.6,1120.7 931.9,1125.1 935.6,1131.0 C940.7,1139.0 944.4,1152.1 948.3,1162.7 C952.1,1173.2 956.0,1183.8 958.8,1194.4 C961.6,1204.9 963.6,1214.4 965.2,1226.0 C967.2,1240.0 968.6,1256.0 968.8,1272.8 C969.1,1292.3 966.6,1317.0 965.6,1336.0 C964.8,1351.5 963.1,1366.5 963.5,1378.3 C963.8,1386.7 968.7,1394.7 966.0,1400.0 C963.4,1405.1 956.0,1407.5 948.3,1410.0 C936.4,1413.9 916.3,1414.5 900.0,1416.0 C883.5,1417.5 866.7,1418.3 850.0,1419.0 C833.3,1419.7 816.7,1419.9 800.0,1420.0 C783.3,1420.1 765.7,1420.1 750.0,1419.5 C735.9,1419.0 720.2,1418.9 710.0,1417.0 C703.4,1415.8 697.1,1414.9 694.0,1412.0 C691.7,1409.9 692.6,1406.6 690.8,1403.6 C688.2,1399.2 681.4,1394.6 678.1,1388.9 C674.6,1382.8 672.2,1376.0 670.7,1367.8 C668.7,1357.1 671.4,1340.5 669.7,1329.8 C668.4,1321.6 666.4,1315.9 663.3,1308.7 C659.7,1300.4 652.6,1292.5 648.5,1283.3 C644.1,1273.6 640.3,1262.4 638.0,1251.7 C635.8,1241.3 634.3,1230.0 634.8,1220.0 C635.3,1211.0 638.5,1204.0 640.1,1194.4 C642.1,1182.1 644.6,1164.5 645.4,1152.2 C646.0,1142.7 643.1,1132.6 645.6,1127.0 Z" fill="none" stroke="#d6111f" stroke-width="1.3" stroke-linecap="butt" stroke-linejoin="round" stroke-dasharray="11 4.5"/>
<path d="M665.4,1112.0 C666.8,1106.9 668.6,1103.4 672.0,1100.0 C676.2,1095.8 683.7,1092.6 690.0,1090.0 C696.3,1087.4 701.7,1085.9 709.8,1084.6 C722.3,1082.6 741.8,1082.0 758.3,1082.5 C775.5,1083.0 793.4,1085.9 811.0,1087.8 C828.6,1089.7 846.3,1092.3 863.9,1094.1 C881.5,1095.9 902.2,1096.6 916.6,1098.4 C926.6,1099.6 934.6,1100.0 942.0,1102.6 C948.4,1104.8 954.3,1107.5 958.8,1112.0 C963.6,1116.8 966.2,1123.7 969.4,1131.0 C973.4,1140.1 977.2,1152.0 980.0,1162.7 C982.8,1173.2 984.7,1183.8 986.3,1194.4 C987.9,1204.9 988.6,1214.4 989.4,1226.0 C990.3,1240.1 991.2,1256.7 991.0,1272.8 C990.8,1289.9 988.7,1308.9 987.8,1325.5 C987.0,1340.4 985.2,1355.8 985.6,1367.8 C985.9,1376.7 991.9,1385.4 988.5,1391.0 C984.4,1397.6 969.1,1399.2 958.0,1402.0 C945.3,1405.2 930.0,1406.0 916.0,1408.0 C902.0,1410.0 888.9,1412.4 874.0,1414.0 C857.2,1415.8 838.5,1417.2 820.0,1418.0 C800.5,1418.8 777.0,1419.3 760.0,1418.5 C747.3,1417.9 735.2,1417.6 727.0,1415.0 C721.6,1413.3 717.4,1411.4 714.5,1407.9 C711.5,1404.2 712.7,1397.6 709.8,1393.0 C706.4,1387.6 697.5,1383.7 694.0,1378.3 C691.0,1373.7 689.7,1369.3 688.7,1363.5 C687.4,1355.8 689.4,1345.1 688.7,1336.0 C688.0,1326.9 687.2,1317.4 684.4,1308.7 C681.6,1299.9 676.0,1292.3 671.8,1283.3 C667.2,1273.4 661.2,1261.9 658.0,1251.7 C655.2,1242.8 653.4,1234.2 652.8,1226.0 C652.2,1218.7 653.0,1212.7 653.8,1205.0 C654.8,1195.5 657.3,1183.9 659.1,1173.3 C660.9,1162.7 663.4,1152.0 664.4,1141.6 C665.4,1131.6 663.3,1119.5 665.4,1112.0 Z" fill="none" stroke="#d6111f" stroke-width="2.3" stroke-linecap="butt" stroke-linejoin="round" stroke-dasharray="30 9"/>
<path d="M690.6,1089.2 C695.2,1079.7 708.1,1070.4 718.2,1066.0 C727.4,1062.0 737.3,1063.3 747.8,1062.5 C759.7,1061.6 772.5,1060.6 785.8,1061.0 C800.5,1061.4 817.1,1064.1 832.2,1065.6 C846.6,1067.0 860.3,1068.7 874.4,1069.9 C888.5,1071.1 902.6,1071.6 916.6,1073.0 C930.7,1074.4 947.2,1076.7 958.8,1078.3 C966.9,1079.4 973.0,1079.6 979.4,1081.5 C985.4,1083.3 991.8,1085.0 996.3,1088.9 C1001.0,1093.0 1003.6,1099.5 1006.9,1105.8 C1010.7,1113.2 1014.3,1122.0 1017.4,1131.0 C1020.8,1140.9 1023.8,1152.1 1025.9,1162.7 C1028.0,1173.2 1028.9,1183.8 1030.0,1194.4 C1031.0,1204.9 1031.7,1215.1 1032.2,1226.0 C1032.8,1237.7 1033.3,1249.7 1033.1,1262.2 C1032.9,1275.7 1031.9,1290.3 1031.0,1304.4 C1030.1,1318.5 1027.8,1334.9 1027.9,1346.6 C1028.0,1354.9 1029.9,1362.2 1030.0,1367.8 C1030.1,1371.5 1031.5,1374.2 1029.5,1377.0 C1025.7,1382.5 1009.6,1387.6 998.3,1391.0 C986.1,1394.6 972.2,1395.7 958.8,1397.3 C945.0,1398.9 930.7,1399.8 916.6,1400.5 C902.5,1401.2 888.5,1401.0 874.4,1401.5 C860.3,1402.0 846.3,1403.3 832.2,1403.6 C818.1,1403.9 803.3,1404.1 790.0,1403.6 C778.0,1403.1 765.0,1403.0 756.0,1401.0 C749.7,1399.6 743.0,1398.8 740.5,1395.2 C738.1,1391.8 741.2,1385.4 740.4,1380.4 C739.5,1374.9 737.7,1369.5 735.0,1363.5 C731.6,1355.7 723.7,1346.7 720.3,1338.2 C717.3,1330.5 716.4,1323.1 715.0,1315.0 C713.5,1306.3 714.5,1296.3 711.9,1287.5 C709.3,1278.6 703.7,1270.6 699.2,1262.2 C694.6,1253.7 687.9,1246.1 684.4,1236.9 C680.7,1227.2 678.8,1214.6 678.1,1205.0 C677.5,1197.3 678.4,1191.6 679.2,1183.9 C680.2,1174.4 682.7,1162.8 684.4,1152.2 C686.2,1141.6 688.7,1131.1 689.7,1120.5 C690.7,1110.1 686.3,1098.1 690.6,1089.2 Z" fill="none" stroke="#d6111f" stroke-width="2.8" stroke-linecap="butt" stroke-linejoin="round"/>
<line x1="602.3" y1="1158.3" x2="762.6" y2="1030.8" stroke="#d6111f" stroke-width="4.2" stroke-linecap="butt" />
<path d="M1061.8,1342.2 C1056.2,1348.1 1050.6,1354.6 1045.0,1360.0 C1040.0,1364.9 1035.2,1369.6 1030.0,1373.5 C1025.2,1377.2 1020.2,1380.2 1015.0,1383.0 C1009.7,1385.9 1004.9,1388.2 998.3,1390.5 C989.5,1393.6 978.0,1396.6 966.6,1399.0 C953.6,1401.7 939.3,1403.4 924.4,1405.5 C907.8,1407.9 889.3,1410.2 871.7,1412.5" fill="none" stroke="#d6111f" stroke-width="4.2" stroke-linecap="round" stroke-linejoin="round"/>
</svg>
</body>
</html>
